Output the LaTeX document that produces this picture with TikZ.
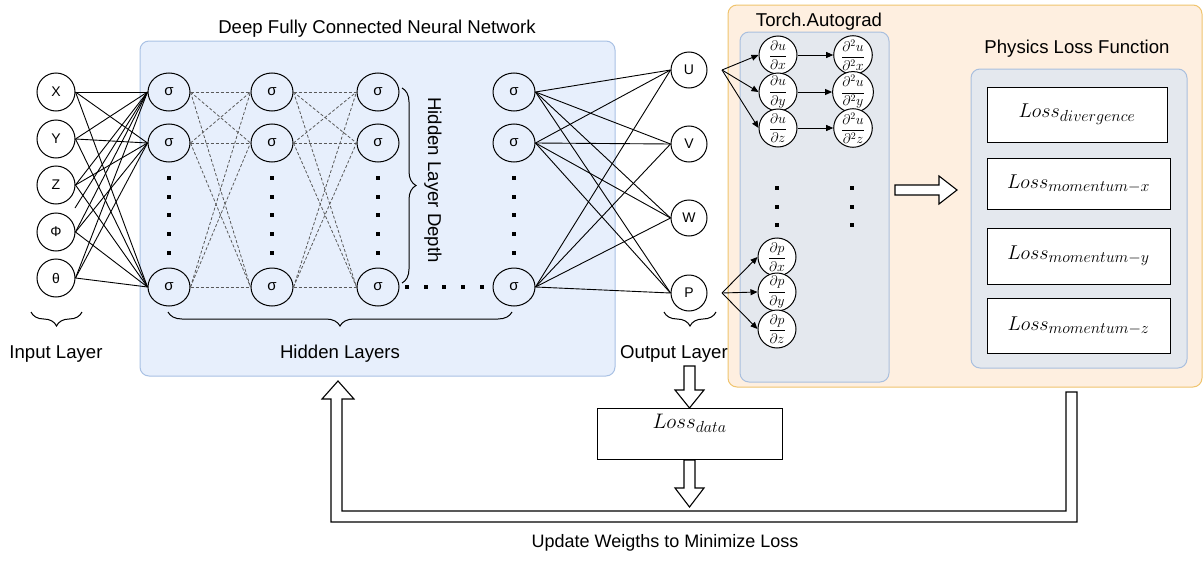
\RequirePackage{fix-cm}
\documentclass[tikz,border=0pt]{standalone}
\usepackage{amsmath}
\usepackage[no-math]{fontspec}
\setmainfont{Liberation Sans}
\usetikzlibrary{shapes.geometric,decorations.pathreplacing,arrows.meta}
\DeclareMathSizes{14}{14}{10}{7}
\DeclareMathSizes{20}{20}{16}{12}
\DeclareMathSizes{21}{21}{16}{12}
\definecolor{bluefill}{HTML}{E7EFFC}
\definecolor{bluedraw}{HTML}{A9C1E4}
\definecolor{orfill}{HTML}{FEEFE0}
\definecolor{ordraw}{HTML}{F0C46E}
\definecolor{grfill}{HTML}{E4E8EE}
\definecolor{grdraw}{HTML}{A9BFDE}
\begin{document}
\begin{tikzpicture}[x=1pt,y=-1pt,
  every node/.style={inner sep=0pt},
  inp/.style={circle,draw,line width=1pt,minimum size=38pt,font=\fontsize{14}{16}\selectfont},
  hid/.style={ellipse,draw,line width=1pt,minimum width=42pt,minimum height=38pt,font=\fontsize{15}{16}\selectfont},
  outn/.style={circle,draw,fill=white,line width=1pt,minimum size=36pt,font=\fontsize{14}{16}\selectfont},
  der/.style={circle,draw,fill=white,line width=1pt,minimum size=38pt,font=\fontsize{14}{15}\selectfont},
  conn/.style={line width=0.9pt},
  dconn/.style={dash pattern=on 3pt off 2pt,draw=black!65,line width=0.8pt},
  arr/.style={-{Triangle[length=7pt,width=6pt]},line width=0.9pt},
  lbl/.style={font=\fontsize{18.6}{20}\selectfont,anchor=base},
  br/.style={decorate,decoration={brace,amplitude=14pt},line width=1pt},
  lossbox/.style={draw,fill=white,line width=1pt,font=\fontsize{20}{22}\selectfont},
  panel/.style={rounded corners=9pt,line width=1pt},
  blockarr/.style={draw,fill=white,line width=1.1pt,line join=miter}
]
\useasboundingbox (0,0) rectangle (1203,562);
\fill[white] (0,0) rectangle (1203,562);

% panels
\draw[panel,fill=bluefill,draw=bluedraw] (140,41) rectangle (615,376);
\draw[panel,fill=orfill,draw=ordraw] (728,5) rectangle (1202,387);
\draw[panel,fill=grfill,draw=grdraw] (740,32) rectangle (889,382);
\draw[panel,fill=grfill,draw=grdraw] (971,69) rectangle (1187,368);

% titles
\node[lbl] (title) at (377,33) {Deep Fully Connected Neural Network};
\node[lbl] (tag) at (819,26) {Torch.Autograd};
\node[lbl] (tpl) at (1077,53) {Physics Loss Function};
\node[lbl] (til) at (56,358) {Input Layer};
\node[lbl] (thl) at (340,358) {Hidden Layers};
\node[lbl] (tol) at (674,358) {Output Layer};
\node[lbl,font=\fontsize{18}{20}\selectfont] (tup) at (665,547) {Update Weigths to Minimize Loss};
\node[font=\fontsize{18.6}{20}\selectfont,rotate=-90] (thd) at (433,180) {Hidden Layer Depth};

% input nodes
\node[inp] (in1) at (56,92) {X};
\node[inp] (in2) at (56,139) {Y};
\node[inp] (in3) at (56,185) {Z};
\node[inp] (in4) at (56,232) {Φ};
\node[inp] (in5) at (56,278) {θ};

% hidden nodes
\foreach \c/\x in {1/169,2/272,3/378,4/514}{
  \foreach \r/\y in {1/92,2/143,3/287}{
    \node[hid] (h\c\r) at (\x,\y) {σ};
  }
  \foreach \y in {178,197,215,234,253}{
    \fill (\x-2.25,\y-2.25) rectangle ++(4.5,4.5);
  }
}
\foreach \x in {407,426,444,463,482}{
  \fill (\x-2.25,287-2.25) rectangle ++(4.5,4.5);
}

% output nodes
\node[outn] (oU) at (689,70) {U};
\node[outn] (oV) at (689,144) {V};
\node[outn] (oW) at (689,218) {W};
\node[outn] (oP) at (689,293) {P};

% input -> hidden 1
\foreach \i in {1,...,5}{
  \foreach \r in {1,2,3}{
    \draw[conn] (in\i.east) -- (h1\r.west);
  }
}
\coordinate (stub) at (75,208);
\draw[conn] (stub) -- (h11.west);

% hidden dashed connections
\foreach \a in {1,2,3}{
  \foreach \b in {1,2,3}{
    \draw[dconn] (h1\a.east) -- (h2\b.west);
    \draw[dconn] (h2\a.east) -- (h3\b.west);
  }
}

% hidden 4 -> outputs
\foreach \a in {1,2,3}{
  \foreach \o in {U,V,W,P}{
    \draw[conn] (h4\a.east) -- (o\o.west);
  }
}

% braces
\draw[br] (82,312) -- (31,312);
\draw[br] (512,312) -- (168,312);
\draw[br] (716,312) -- (664,312);
\draw[br] (402,88) -- (402,283);

% derivative nodes
\node[der] (du1) at (778,55) {$\dfrac{\partial u}{\partial x}$};
\node[der] (du2) at (778,92) {$\dfrac{\partial u}{\partial y}$};
\node[der] (du3) at (778,128) {$\dfrac{\partial u}{\partial z}$};
\node[der] (dd1) at (853,55) {$\dfrac{\partial^2 u}{\partial^2 x}$};
\node[der] (dd2) at (853,92) {$\dfrac{\partial^2 u}{\partial^2 y}$};
\node[der] (dd3) at (853,128) {$\dfrac{\partial^2 u}{\partial^2 z}$};
\node[der] (dp1) at (777,257) {$\dfrac{\partial p}{\partial x}$};
\node[der] (dp2) at (777,292) {$\dfrac{\partial p}{\partial y}$};
\node[der] (dp3) at (777,329) {$\dfrac{\partial p}{\partial z}$};
\foreach \x in {777,852}{
  \foreach \y in {188,207,225}{
    \fill (\x-2.25,\y-2.25) rectangle ++(4.5,4.5);
  }
}

\coordinate (Us) at (722,70);
\coordinate (Ps) at (722,293);
\foreach \k in {1,2,3}{
  \draw[arr] (Us) -- (du\k.west);
  \draw[arr] (Ps) -- (dp\k.west);
  \draw[arr] (du\k.east) -- (dd\k.west);
}

% physics loss boxes
\node[lossbox,minimum width=180pt,minimum height=55pt] (l1) at (1077,114.5) {$Loss_{divergence}$};
\node[lossbox,minimum width=183pt,minimum height=51pt] (l2) at (1078.5,183.5) {$Loss_{momentum-x}$};
\node[lossbox,minimum width=183pt,minimum height=56pt] (l3) at (1078.5,256) {$Loss_{momentum-y}$};
\node[lossbox,minimum width=183pt,minimum height=55pt] (l4) at (1078.5,325.5) {$Loss_{momentum-z}$};

% hollow arrow autograd -> physics
\draw[blockarr] (895,185) -- (939,185) -- (939,176) -- (957,190) -- (939,204) -- (939,195) -- (895,195) -- cycle;

% data loss
\node[draw,fill=white,line width=1pt,minimum width=185pt,minimum height=51pt] (ld) at (689.5,433.5) {};
\node[font=\fontsize{21}{24}\selectfont] (ldt) at (689.5,423) {$Loss_{data}$};
\draw[blockarr] (684,366) -- (695,366) -- (695,390) -- (704,390) -- (689.5,408) -- (675,390) -- (684,390) -- cycle;
\draw[blockarr] (684,460) -- (695,460) -- (695,488) -- (704,488) -- (689.5,507) -- (675,488) -- (684,488) -- cycle;

% feedback arrow
\draw[blockarr] (1077,392) -- (1077,522) -- (331,522) -- (331,399) -- (322,399) -- (338,381) -- (354,399) -- (342,399) -- (342,511) -- (1066,511) -- (1066,392) -- cycle;
\end{tikzpicture}
\end{document}
